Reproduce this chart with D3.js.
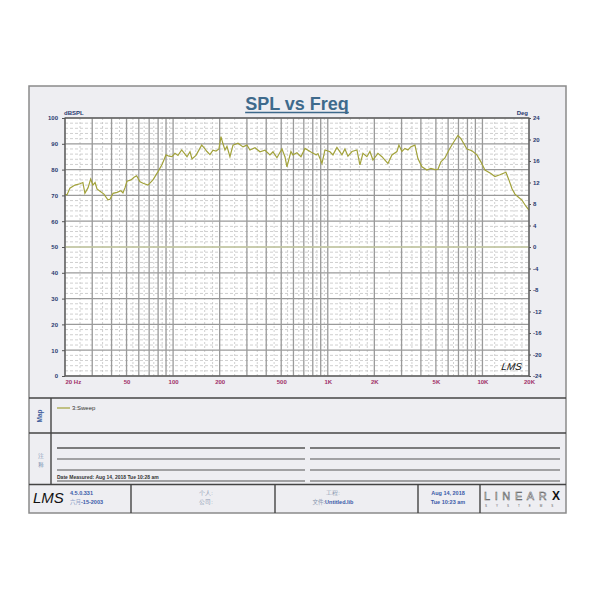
<!DOCTYPE html>
<html><head><meta charset="utf-8">
<script src="https://cdn.jsdelivr.net/npm/d3@7"></script>
<style>
body{margin:0;background:#fff;}
text{font-family:"Liberation Sans",Arial,sans-serif;}
</style></head><body>
<svg id="c" width="600" height="600"></svg>
<script>
// ---- data ----
const freq = [20,20.6,21.5,23.2,25,26.1,26.9,28.2,29.3,30.3,31.3,32.2,33.7,35.7,37.9,39.1,40.9,43.4,46,47.4,48.9,50.3,53.4,55.9,58.1,61.1,63.9,68.8,74.1,79.9,84.8,90,94.1,98.4,102.8,107.5,113.6,119.4,123,128.6,132.5,140.6,153,158.3,165.6,173.1,181,189.3,197.9,203.9,210.1,216.4,222.9,233.1,243.8,262.6,283,300.3,314,338.3,364.5,392.7,422.9,442.3,469.3,505.5,528.6,544.6,577.9,595.4,632,670.9,712,778.6,838.7,864,917.1,959,1033,1080,1146,1235,1291,1350,1433,1544,1614,1688,1791,1873,1959,2110,2240,2342,2449,2600,2800,2884,3016,3154,3298,3449,3660,3827,4062,4376,4644,4929,5155,5389,5721,6072,6444,6941,7258,7590,7936,8550,9211,9775,10375,11342,12038,12969,14184,14832,15509,16218,16959,17997,19099,20000];
const spl = [70.4,70.2,72.8,74.0,74.5,75.0,70.8,73,76.3,74,75,72.5,71.6,70.5,68.3,68.5,70.8,71.2,71.8,71,73,75.5,76,77,77.6,75.3,74.7,74,76,79.2,82,85.7,85.2,85,86.3,85.5,87.6,86,85,86.9,84.1,85.5,89.5,88.5,87,85.8,87.5,87.2,88,92.8,90,87.6,89,85,89.5,90.2,88.8,89.5,87.6,88.5,86.9,87.5,85.7,86.9,84.6,88,85,81.1,87,85.7,86.5,85,88.2,86.8,85.7,86.2,82.4,87.6,86.9,85.7,88.6,85.7,88,85.2,87,87.6,81.8,86.3,85,87,83.7,86.3,85,83.7,82.4,85.7,87,89.5,87,88.2,87.6,88.9,89.5,84.3,81.1,79.8,80.5,80,80.1,83,84.5,87.6,90.2,93.2,92,90,88,87.3,85.7,83,79.8,78.5,77.3,78,79,76,72.7,70.5,69.5,68.2,65.8,64.3];
const phaseFreq = [20, 20000];
const phaseDeg = [0, 0];
const splTicks = [0,10,20,30,40,50,60,70,80,90,100];
const degTicks = [-24,-20,-16,-12,-8,-4,0,4,8,12,16,20,24];
const freqTicks = [20,50,100,200,500,1000,2000,5000,10000,20000];
const freqTickLabels = ["20 Hz","50","100","200","500","1K","2K","5K","10K","20K"];
const legendLabels = ["3:Sweep"];

// ---- layout ----
const svg = d3.select("#c");
const P = {l:65, r:529, t:118, b:376};
const x = d3.scaleLog().domain([20,20000]).range([P.l,P.r]);
const y = d3.scaleLinear().domain([0,100]).range([P.b,P.t]);
const y2 = d3.scaleLinear().domain([-24,24]).range([P.b,P.t]);

// frame
svg.append("rect").attr("x",29).attr("y",86).attr("width",537).attr("height",427)
  .attr("fill","#eeeef2").attr("stroke","#8a8a8a").attr("stroke-width",1.5);
// plot bg
svg.append("rect").attr("x",P.l).attr("y",P.t).attr("width",P.r-P.l).attr("height",P.b-P.t).attr("fill","#fff");

// grid
const g = svg.append("g");
const minorF = [], majorF = [];
[10,100,1000,10000].forEach(b=>{
  for(let k=1;k<=9;k++){
    const f=k*b; if(f>=20 && f<=20000) majorF.push(f);
    if(k===1){[1.2,1.4,1.6,1.8].forEach(m=>{const v=m*b; if(v>20&&v<20000)minorF.push(v);});}
    else {const v=(k+0.5)*b; if(v>20&&v<20000)minorF.push(v);}
  }
});
g.selectAll(".vmin").data(minorF).join("line").attr("x1",d=>x(d)).attr("x2",d=>x(d))
  .attr("y1",P.t).attr("y2",P.b).attr("stroke","#c4c4c4").attr("stroke-width",0.8).attr("stroke-dasharray","2,2");
const hmin = d3.range(0,101,2).filter(v=>v%10!==0);
g.selectAll(".hmin").data(hmin).join("line").attr("y1",d=>y(d)).attr("y2",d=>y(d))
  .attr("x1",P.l).attr("x2",P.r).attr("stroke","#c4c4c4").attr("stroke-width",0.8).attr("stroke-dasharray","3,2");
g.selectAll(".vmaj").data(majorF).join("line").attr("x1",d=>x(d)).attr("x2",d=>x(d))
  .attr("y1",P.t).attr("y2",P.b).attr("stroke","#9a9a9a").attr("stroke-width",1.3);
g.selectAll(".hmaj").data(splTicks).join("line").attr("y1",d=>y(d)).attr("y2",d=>y(d))
  .attr("x1",P.l).attr("x2",P.r).attr("stroke","#9a9a9a").attr("stroke-width",1.3);

// phase line
svg.append("path").datum(phaseFreq.map((f,i)=>[f,phaseDeg[i]]))
  .attr("d",d3.line().x(d=>x(d[0])).y(d=>y2(d[1]))).attr("stroke","#dfe6a8").attr("stroke-width",1).attr("fill","none");
// spl curve
svg.append("path").datum(freq.map((f,i)=>[f,spl[i]]))
  .attr("d",d3.line().x(d=>x(d[0])).y(d=>y(d[1]))).attr("stroke","#a2a23a").attr("stroke-width",1.2).attr("fill","none");

// plot border
svg.append("rect").attr("x",P.l).attr("y",P.t).attr("width",P.r-P.l).attr("height",P.b-P.t)
  .attr("fill","none").attr("stroke","#555").attr("stroke-width",1.2);

// axes
function styleAxis(sel,color){
  sel.select(".domain").remove();
  sel.selectAll(".tick line").attr("stroke","#555");
  sel.selectAll("text").attr("fill",color).attr("font-size",6).attr("font-weight","bold");
}
svg.append("g").attr("transform",`translate(${P.l},0)`)
  .call(d3.axisLeft(y).tickValues(splTicks).tickSize(3).tickPadding(4))
  .call(s=>styleAxis(s,"#2a3a70"));
svg.append("g").attr("transform",`translate(${P.r},0)`)
  .call(d3.axisRight(y2).tickValues(degTicks).tickFormat(d=>String(d)).tickSize(2).tickPadding(2))
  .call(s=>styleAxis(s,"#2a3a70"));
const xa = svg.append("g").attr("transform",`translate(0,${P.b})`)
  .call(d3.axisBottom(x).tickValues(freqTicks).tickFormat((d,i)=>freqTickLabels[i]).tickSize(0).tickPadding(4))
  .call(s=>styleAxis(s,"#a03068"));
xa.selectAll(".tick text").filter((d,i)=>i===0).attr("text-anchor","start").attr("dx",0);

// axis titles
svg.append("text").attr("x",64).attr("y",115).text("dBSPL").attr("font-size",6).attr("fill","#2a3a70").attr("font-weight","bold");
svg.append("text").attr("x",528).attr("y",115).attr("text-anchor","end").text("Deg").attr("font-size",6).attr("fill","#2a3a70").attr("font-weight","bold");

// title
const title = svg.append("text").attr("x",297).attr("y",110).attr("text-anchor","middle")
  .attr("font-size",18).attr("font-weight","bold").attr("fill","#3e6a8c").text("SPL vs Freq");
const tb = title.node().getBBox();
svg.append("line").attr("x1",tb.x).attr("x2",tb.x+tb.width).attr("y1",112.5).attr("y2",112.5).attr("stroke","#3e6a8c").attr("stroke-width",1.6);

// LMS mark in plot
svg.append("text").attr("x",503).attr("y",370).text("LMS").attr("font-family","DejaVu Serif").attr("font-style","italic")
  .attr("font-size",10).attr("fill","#111").attr("transform","skewX(-8)").attr("dx",50);

// sections
const sep = (x1,y1,x2,y2,w=1.4,c="#444")=>svg.append("line").attr("x1",x1).attr("y1",y1).attr("x2",x2).attr("y2",y2).attr("stroke",c).attr("stroke-width",w);
sep(29,398,566,398);
sep(29,433,566,433);
sep(29,484.5,566,484.5);
sep(51,398,51,484.5);
[131,275,418,480].forEach(v=>sep(v,484.5,v,513));

// Map label
svg.append("text").attr("transform","translate(42,416) rotate(-90)").attr("text-anchor","middle")
  .text("Map").attr("font-size",6.5).attr("font-weight","bold").attr("fill","#3a5a9a");
// legend
svg.selectAll(".leg").data(legendLabels).join("g").each(function(d,i){
  const s=d3.select(this);
  s.append("line").attr("x1",57).attr("x2",70).attr("y1",408+i*8).attr("y2",408+i*8).attr("stroke","#a2a23a").attr("stroke-width",1.2);
  s.append("text").attr("x",72).attr("y",410+i*8).text(d).attr("font-size",6).attr("fill","#333");
});

// notes label
svg.append("text").attr("x",41).attr("y",458).attr("text-anchor","middle").text("注").attr("font-size",6).attr("fill","#8095b5").attr("font-family","Noto Sans CJK SC");
svg.append("text").attr("x",41).attr("y",467).attr("text-anchor","middle").text("释").attr("font-size",6).attr("fill","#8095b5").attr("font-family","Noto Sans CJK SC");
// notes lines
[448,459,470,481].forEach((v,i)=>{
  sep(57,v,305,v,i===0?1.6:1.1,"#555");
  sep(310,v,560,v,i===0?1.6:1.1,"#555");
});
svg.append("text").attr("x",57).attr("y",479).text("Date Measured: Aug 14, 2018  Tue 10:28 am")
  .attr("font-size",5).attr("font-weight","bold").attr("fill","#333");

// footer
svg.append("text").attr("x",33).attr("y",503).text("LMS").attr("font-family","DejaVu Serif").attr("font-style","italic")
  .attr("font-size",15).attr("fill","#111");
svg.append("text").attr("x",70).attr("y",495).text("4.5.0.331").attr("font-size",5.5).attr("font-weight","bold").attr("fill","#3a5aa8");
svg.append("text").attr("x",70).attr("y",504).attr("font-size",5.5).attr("fill","#3a5aa8").attr("font-weight","bold")
  .call(t=>{t.append("tspan").text("六月").attr("fill","#8fa2c8").attr("font-weight","normal").attr("font-family","Noto Sans CJK SC");t.append("tspan").text("-15-2003");});
const c1=206;
svg.append("text").attr("x",c1).attr("y",495).attr("text-anchor","middle").text("个人:").attr("font-size",5.5).attr("fill","#8a98b0").attr("font-family","Noto Sans CJK SC");
svg.append("text").attr("x",c1).attr("y",504).attr("text-anchor","middle").text("公司:").attr("font-size",5.5).attr("fill","#8a98b0").attr("font-family","Noto Sans CJK SC");
const c2=333;
svg.append("text").attr("x",c2).attr("y",495).attr("text-anchor","middle").text("工程:").attr("font-size",5.5).attr("fill","#8a98b0").attr("font-family","Noto Sans CJK SC");
svg.append("text").attr("x",c2).attr("y",504).attr("text-anchor","middle").attr("font-size",5.5)
  .call(t=>{t.append("tspan").text("文件:").attr("fill","#8a98b0").attr("font-family","Noto Sans CJK SC");t.append("tspan").text("Untitled.lib").attr("fill","#3a5aa8").attr("font-weight","bold");});
svg.append("text").attr("x",448).attr("y",495).attr("text-anchor","middle").text("Aug 14, 2018").attr("font-size",5.5).attr("font-weight","bold").attr("fill","#3a5aa8");
svg.append("text").attr("x",448).attr("y",504).attr("text-anchor","middle").text("Tue 10:23 am").attr("font-size",5.5).attr("font-weight","bold").attr("fill","#3a5aa8");
// LINEARX
svg.append("text").attr("x",484).attr("y",500).attr("font-family","Liberation Serif").attr("font-size",11).attr("letter-spacing",4.6)
  .attr("fill","#eeeef2").attr("stroke","#555").attr("stroke-width",0.5).text("LINEAR");
svg.append("text").attr("x",552).attr("y",500).attr("font-size",12).attr("font-weight","bold").attr("fill","#111").text("X");
svg.append("text").attr("x",485).attr("y",507).attr("font-size",3).attr("letter-spacing",9).attr("fill","#555").text("SYSTEMS");
</script>
</body></html>
